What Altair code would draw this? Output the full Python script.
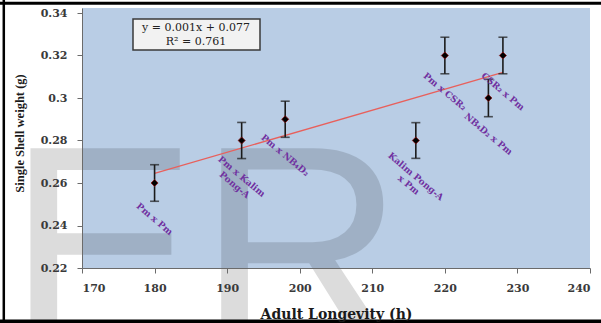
import altair as alt
import pandas as pd

# ---- data ----
longevity = [180, 192, 198, 220, 228, 226, 216]
shell_wt = [0.26, 0.28, 0.29, 0.32, 0.32, 0.30, 0.28]
err = [0.0086, 0.0085, 0.0085, 0.0086, 0.0086, 0.0088, 0.0084]
labels = ["Pm x Pm", "Pm x Kalim\nPong-A", "Pm x NB₄D₂", "Pm x CSR₂",
          "CSR₂ x Pm", "NB₄D₂ x Pm", "Kalim Pong-A\nx Pm"]
x_ticks = [170, 180, 190, 200, 210, 220, 230, 240]
y_ticks = [0.22, 0.24, 0.26, 0.28, 0.30, 0.32, 0.34]
eq_lines = ["y = 0.001x + 0.077", "R² = 0.761"]
x_title = "Adult Longevity (h)"
y_title = "Single Shell weight (g)"
watermark = "ER"

df = pd.DataFrame({"x": longevity, "y": shell_wt, "e": err, "label": labels})
df["lo"] = df["y"] - df["e"]
df["hi"] = df["y"] + df["e"]

W, H = 508, 260
one = alt.InlineData(values=[{"k": 0}])

xs = alt.Scale(domain=[170, 240], nice=False, zero=False)
ys = alt.Scale(domain=[0.22, 0.22 + H / 2125], nice=False, zero=False)

xaxis = alt.Axis(values=x_ticks, title=x_title, grid=False, tickSize=5,
                 labelPadding=9, titleY=50.5, titleBaseline="alphabetic",
                 titleFont="DejaVu Serif", titleFontSize=14, zindex=1)
yaxis = alt.Axis(values=y_ticks, title=y_title, grid=False, tickSize=5,
                 labelPadding=10, format=".2~f", titleX=-63, titleY=125,
                 titleAngle=-90, titleBaseline="middle", titleAlign="center",
                 titleFont="Liberation Serif", titleFontSize=12.5, zindex=1)

base = alt.Chart(df)

wm = alt.Chart(one).mark_text(
    font="Liberation Sans", fontSize=286, align="left", baseline="alphabetic",
    color="black", opacity=0.135
).encode(x=alt.value(-75), y=alt.value(337), text=alt.value(watermark))

trend = base.transform_regression("x", "y").mark_line(
    color="#e8605c", strokeWidth=1.3
).encode(x=alt.X("x:Q", scale=xs, axis=xaxis), y=alt.Y("y:Q", scale=ys, axis=yaxis))

bars = base.mark_rule(color="#1a1a1a", strokeWidth=1.6).encode(
    x="x:Q", y="lo:Q", y2="hi:Q")
cap_lo = base.mark_tick(orient="horizontal", size=9, thickness=1.6,
                        color="#1a1a1a").encode(x="x:Q", y="lo:Q")
cap_hi = base.mark_tick(orient="horizontal", size=9, thickness=1.6,
                        color="#1a1a1a").encode(x="x:Q", y="hi:Q")
pts = base.mark_point(shape="diamond", filled=True, size=50, color="black",
                      stroke="#8a1414", strokeWidth=0.8, opacity=1).encode(
    x="x:Q", y="y:Q")

lbl = base.mark_text(
    font="DejaVu Serif", fontWeight="bold", fontSize=9, color="#7030a0",
    angle=40, align="center", baseline="middle", lineBreak="\n", lineHeight=11
).encode(x="x:Q", y="y:Q", yOffset=alt.value(36), text="label:N")

box = alt.Chart(one).mark_rect(fill="#f2f2f2", stroke="#3a3a3a",
                               strokeWidth=1.5).encode(
    x=alt.value(51), x2=alt.value(178), y=alt.value(11), y2=alt.value(42))
eq = alt.Chart(one).mark_text(
    font="DejaVu Serif", fontSize=11, color="#222222", align="center",
    baseline="middle", lineHeight=14
).encode(x=alt.value(114), y=alt.value(20), text=alt.value(eq_lines))

frame_top = alt.Chart(one).mark_rule(color="black", strokeWidth=3).encode(
    x=alt.value(-82), x2=alt.value(519), y=alt.value(-4.7))
frame_left = alt.Chart(one).mark_rule(color="black", strokeWidth=2.5).encode(
    x=alt.value(-78.2), y=alt.value(-8), y2=alt.value(315))
frame_bot = alt.Chart(one).mark_rule(color="black", strokeWidth=4).encode(
    x=alt.value(-82), x2=alt.value(519), y=alt.value(313.5))

chart = alt.layer(
    wm, trend, bars, cap_lo, cap_hi, pts, lbl, box, eq,
    frame_top, frame_left, frame_bot
).properties(
    width=W, height=H,
    autosize=alt.AutoSizeParams(type="none"),
    padding={"left": 82, "top": 8, "right": 11, "bottom": 55},
    background="white"
).configure_view(
    fill="#b9cde5", strokeWidth=0
).configure_axis(
    domainColor="#6b6b6b", tickColor="#6b6b6b", domainWidth=1,
    labelFont="DejaVu Serif", labelFontWeight="bold", labelFontSize=11,
    labelColor="#3a3a3a", titleFontWeight="bold", titleColor="#1a1a1a"
)

chart.save("out.html", embed_options={"renderer": "svg", "actions": False})
